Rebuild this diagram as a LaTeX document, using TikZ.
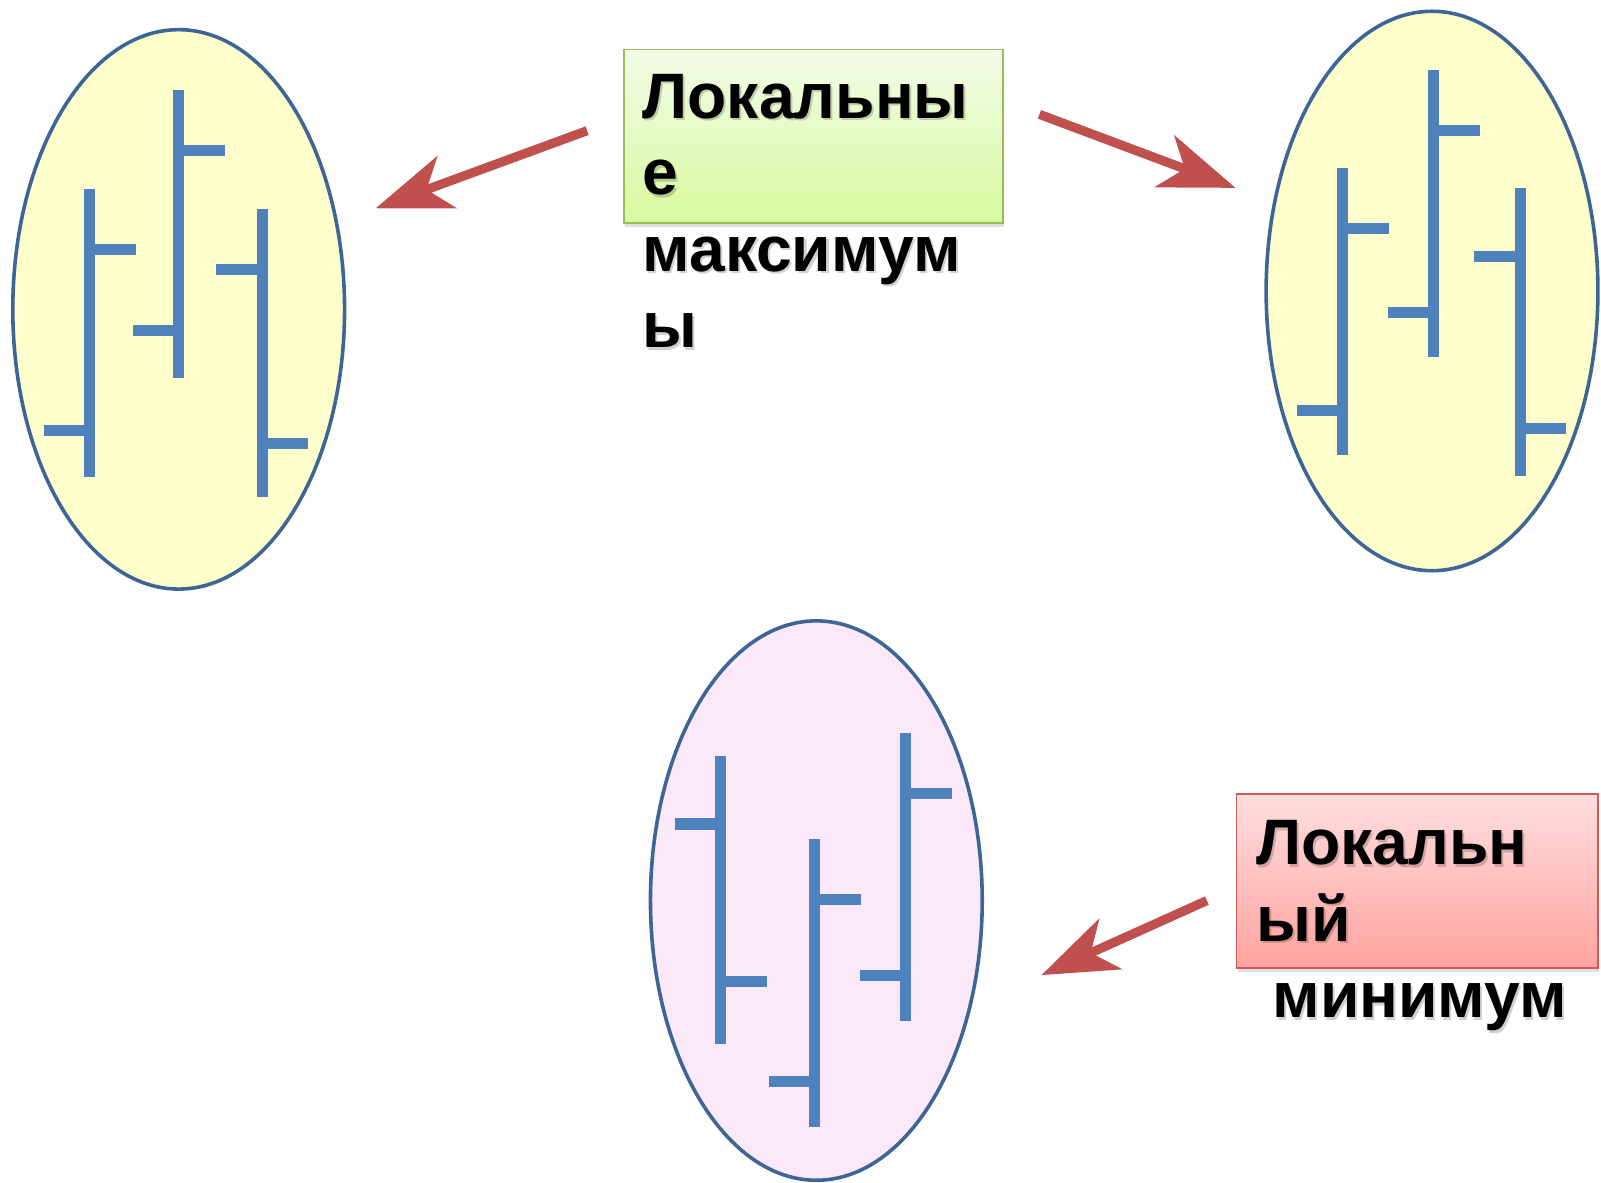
\documentclass[tikz,border=0pt]{standalone}
\usepackage{fontspec}
\setmainfont{Liberation Sans}
\usetikzlibrary{arrows.meta,shapes.geometric,shadows}

\definecolor{barblue}{HTML}{4F81BD}
\definecolor{rimblue}{HTML}{3D6596}
\definecolor{pale}{HTML}{FFFFCC}
\definecolor{pink}{HTML}{FBE8F8}
\definecolor{arrred}{HTML}{C0504D}
\definecolor{greentop}{HTML}{F3FBE8}
\definecolor{greenbot}{HTML}{D8FA9E}
\definecolor{greenrim}{HTML}{9BBB59}
\definecolor{redtop}{HTML}{FFDEDE}
\definecolor{redbot}{HTML}{FFA39F}
\definecolor{redrim}{HTML}{CF5A58}

\begin{document}
\begin{tikzpicture}[x=0.02cm,y=-0.02cm,
  oval/.style={ellipse,draw=rimblue,line width=2pt,fill=pale,minimum width=6.5cm,minimum height=10.96cm,inner sep=0pt},
  bar/.style={barblue,line width=6.2pt},
  pointer/.style={arrred,line width=5.1pt,-{Stealth[length=1.48cm,width=1.08cm,inset=0.42cm]}},
  label/.style={anchor=north west,inner sep=0pt,align=left,font=\fontsize{35.8}{42.7}\selectfont\bfseries},
  shade/.style={label,text=black,opacity=0.18},
  box/.style={rectangle,minimum width=#1,minimum height=3.4cm,inner sep=0pt,line width=1pt,drop shadow={shadow xshift=0.6pt,shadow yshift=-2pt,opacity=0.25}}]
\useasboundingbox (0,0) rectangle (1568,1158);

\node[oval] (ell_l) at (175,303) {};
\node[oval] (ell_r) at (1402.5,285) {};
\node[oval,fill=pink] (ell_b) at (799.5,882) {};

% bars: x / top / bottom / right tick / left tick
\foreach \x/\yt/\yb/\yr/\yl in {88/185/467/244/422, 175/88/370/147/324, 257/205/487/434/264,
  1315/165/446/224/402, 1404/69/350/128/306, 1489/184/466/420/251,
  706/740/1022/961/807, 798/822/1104/881/1059, 887/718/1000/777/955}{
  \draw[bar] (\x,\yt) -- (\x,\yb);
  \draw[bar] (\x,\yr) -- ++(45,0);
  \draw[bar] (\x,\yl) -- ++(-45,0);
}

\node[box=7.42cm,draw=greenrim,top color=greentop,bottom color=greenbot] (box_max) at (796.5,133.5) {};
\node[box=7.08cm,draw=redrim,top color=redtop,bottom color=redbot] (box_min) at (1388,863) {};

\node[shade] (shd_max) at (631,74.5) {Локальны\\е\\максимум\\ы};
\node[label] (txt_max) at (629,72) {Локальны\\е\\максимум\\ы};
\node[shade] (shd_min) at (1232,805.5) {Локальн\\ый\\\hspace*{0.32cm}минимум};
\node[label] (txt_min) at (1230,803) {Локальн\\ый\\\hspace*{0.32cm}минимум};

\coordinate (a_l) at (575,128);
\coordinate (t_l) at (368,204);
\coordinate (a_r) at (1018,112);
\coordinate (t_r) at (1210,184);
\coordinate (a_b) at (1182,882);
\coordinate (t_b) at (1020,955);

\draw[pointer] (a_l) -- (t_l);
\draw[pointer] (a_r) -- (t_r);
\draw[pointer] (a_b) -- (t_b);
\end{tikzpicture}
\end{document}
